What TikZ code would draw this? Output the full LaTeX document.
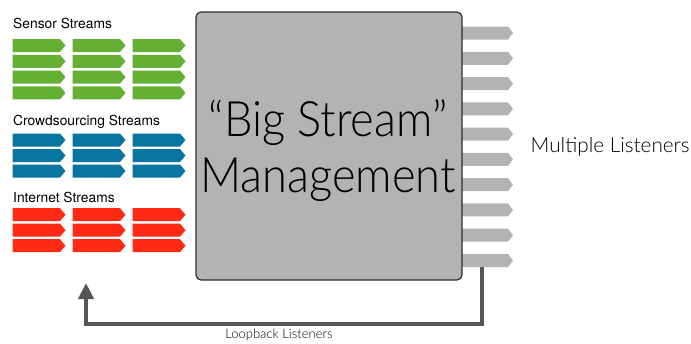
\documentclass[tikz,border=0pt]{standalone}
\usepackage{fontspec}
\setmainfont{TeX Gyre Heros}
\newfontfamily\thinfont{Lato}[UprightFont=* Light]
\usetikzlibrary{arrows.meta}
\definecolor{sensorgreen}{RGB}{99,176,52}
\definecolor{crowdblue}{RGB}{8,117,160}
\definecolor{netred}{RGB}{255,42,20}
\definecolor{boxgray}{RGB}{179,179,179}
\definecolor{boxedge}{RGB}{45,45,45}
\definecolor{loopgray}{RGB}{85,85,85}
\begin{document}
\begin{tikzpicture}[x=1pt,y=-1pt,
  stream/.pic={\fill[#1] (0,-6.5) -- (47.5,-6.5) -- (53,0) -- (47.5,6.5) -- (0,6.5) -- cycle;},
  listener/.pic={\fill[boxgray] (0,-6.5) -- (51,-6.5) -- (56,0) -- (51,6.5) -- (0,6.5) -- cycle;},
  grouplabel/.style={anchor=base west, inner sep=0pt, font=\fontsize{13.8}{16}\selectfont},
  titleline/.style={anchor=base, inner sep=0pt, font=\thinfont\fontsize{45.2}{52}\selectfont},
  corebox/.style={draw=boxedge, line width=1.2pt, fill=boxgray, rounded corners=5pt,
    minimum width=266pt, minimum height=268pt, inner sep=0pt},
  loopline/.style={draw=loopgray, line width=4pt, -{Triangle[width=15pt,length=16pt]}}
]
\useasboundingbox (0,0) rectangle (691,343);

% input streams
\node[grouplabel] (lsensor) at (13,28.5) {Sensor Streams};
\foreach \col in {0,1,2}
  \foreach \y in {45.5,61.3,77.1,92.9}
    \pic at (12.5+60*\col,\y) {stream=sensorgreen};

\node[grouplabel] (lcrowd) at (13,125.8) {Crowdsourcing Streams};
\foreach \col in {0,1,2}
  \foreach \y in {140,155.5,171}
    \pic at (12.5+60*\col,\y) {stream=crowdblue};

\node[grouplabel] (lnet) at (13,202.2) {Internet Streams};
\foreach \col in {0,1,2}
  \foreach \y in {214.7,230.2,245.7}
    \pic at (12.5+60*\col,\y) {stream=netred};

% output listeners, tucked behind the core box
\foreach \i in {0,...,9}
  \pic at (457,33+25.28*\i) {listener};

% core box
\node[corebox] (core) at (329,146) {};
\node[titleline] (title1) at (328,136.7) {\scalebox{1}[1.08]{“Big Stream”}};
\node[titleline] (title2) at (328,192.7) {\scalebox{1}[1.08]{Management}};

\node[anchor=base west, inner sep=0pt, font=\thinfont\fontsize{20.7}{24}\selectfont] (lmulti) at (530.5,152.7) {Multiple Listeners};

% loopback connector
\coordinate (loopstart) at (482,266.5);
\coordinate (loopcorner) at (86,324);
\coordinate (loopend) at (86,283);
\draw[loopline] (loopstart) |- (loopcorner) -- (loopend);
\node[anchor=base, inner sep=0pt, font=\thinfont\fontsize{13}{15}\selectfont] (lloop) at (279,338.5) {Loopback Listeners};
\end{tikzpicture}
\end{document}
